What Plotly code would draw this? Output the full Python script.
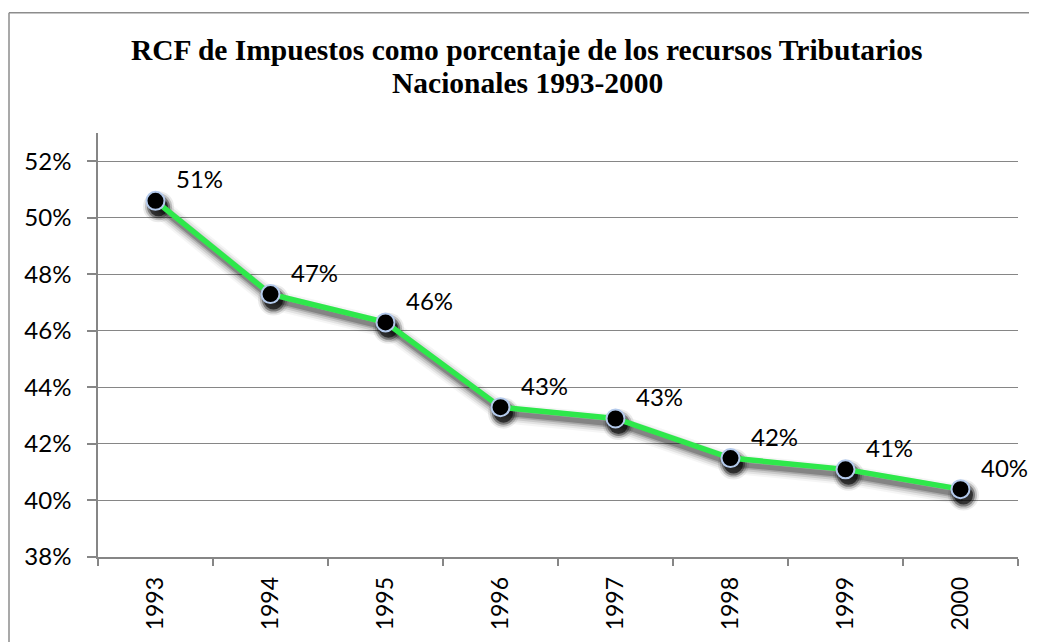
import plotly.graph_objects as go

years = ["1993", "1994", "1995", "1996", "1997", "1998", "1999", "2000"]
values = [50.6, 47.3, 46.3, 43.3, 42.9, 41.5, 41.1, 40.4]
labels = [f"{round(v)}%" for v in values]
title_lines = ["RCF de Impuestos como porcentaje de los recursos Tributarios",
               "Nacionales 1993-2000"]

# page has an 8px body margin; size figure to fill the rest of the window
W, H = 1029, 634
ml, mr, mt, mb = 90, 19, 125, 82
pw, ph = W - ml - mr, H - mt - mb
y_range = [38, 53]
x_range = [-0.5, 7.5]
px_x = pw / (x_range[1] - x_range[0])
px_y = ph / (y_range[1] - y_range[0])

# shadow offset (pixels)
sdx, sdy = 3, 6
x2_range = [x_range[0] - sdx / px_x, x_range[1] - sdx / px_x]
y2_range = [y_range[0] + sdy / px_y, y_range[1] + sdy / px_y]

fig = go.Figure()

fig.add_trace(go.Scatter(x=years, y=values, mode="lines", line=dict(color="rgba(0,0,0,0)"),
                         hoverinfo="skip", showlegend=False, xaxis="x", yaxis="y"))

for w, a in [(20, 0.04), (16, 0.07), (12, 0.11), (8, 0.16), (5, 0.22)]:
    fig.add_trace(go.Scatter(x=years, y=values, mode="lines",
                             line=dict(color=f"rgba(0,0,0,{a})", width=w),
                             hoverinfo="skip", showlegend=False, xaxis="x2", yaxis="y2"))
for s, a in [(31, 0.08), (27, 0.18), (23, 0.35), (19, 0.6)]:
    fig.add_trace(go.Scatter(x=years, y=values, mode="markers",
                             marker=dict(color=f"rgba(0,0,0,{a})", size=s, line=dict(width=0)),
                             hoverinfo="skip", showlegend=False, xaxis="x2", yaxis="y2"))

fig.add_trace(go.Scatter(x=years, y=values, mode="lines+markers",
                         line=dict(color="#2ee84b", width=5.5),
                         marker=dict(color="black", size=18, line=dict(color="#b4caec", width=2)),
                         showlegend=False, xaxis="x3", yaxis="y3"))

# data labels (category axis annotations use the category index)
for i, (v, t) in enumerate(zip(values, labels)):
    fig.add_annotation(x=i, y=v, xref="x", yref="y", text=t, showarrow=False,
                       xanchor="left", yanchor="middle", xshift=18, yshift=22,
                       font=dict(family="Lato", size=24, color="black"))

def py(fig_px):
    return (H - mb - fig_px) / ph

title_cx = (519 - ml) / pw
for line, cy in zip(title_lines, [41, 75]):
    fig.add_annotation(x=title_cx, y=py(cy), xref="paper", yref="paper", text=f"<b>{line}</b>",
                       showarrow=False, xanchor="center", yanchor="middle",
                       font=dict(family="Liberation Serif", size=29.5, color="black"))

grid_color = "#868686"
fig.update_layout(
    width=W, height=H,
    margin=dict(l=ml, r=mr, t=mt, b=mb),
    paper_bgcolor="white", plot_bgcolor="white",
    xaxis=dict(type="category", categoryorder="array", categoryarray=years, range=x_range,
               showgrid=False, showline=True, linecolor=grid_color, linewidth=1.5,
               ticks="outside", ticklen=7, tickcolor=grid_color, tickwidth=1.5,
               tickson="boundaries", tickangle=-90, ticklabelstandoff=9,
               tickfont=dict(family="Lato", size=23, color="black"), fixedrange=True),
    yaxis=dict(range=y_range, tick0=38, dtick=2, ticksuffix="%",
               showgrid=True, gridcolor=grid_color, gridwidth=1.3,
               showline=True, linecolor=grid_color, linewidth=1.5,
               ticks="outside", ticklen=9, tickcolor=grid_color, tickwidth=1.5,
               ticklabelstandoff=11, zeroline=False,
               tickfont=dict(family="Lato", size=24, color="black"), fixedrange=True),
    xaxis2=dict(type="category", categoryorder="array", categoryarray=years, range=x2_range,
                overlaying="x", visible=False, fixedrange=True),
    yaxis2=dict(range=y2_range, overlaying="y", visible=False, fixedrange=True),
    xaxis3=dict(type="category", categoryorder="array", categoryarray=years, range=x_range,
                overlaying="x", visible=False, fixedrange=True),
    yaxis3=dict(range=y_range, overlaying="y", visible=False, fixedrange=True),
)

# outer chart border (top and left visible in frame)
bx = (1 - ml) / pw
by = py(4)
fig.add_shape(type="line", xref="paper", yref="paper", x0=bx, x1=1.05, y0=by, y1=by,
              line=dict(color="#8c8c8c", width=1.5))
fig.add_shape(type="line", xref="paper", yref="paper", x0=bx, x1=bx, y0=by, y1=-0.3,
              line=dict(color="#8c8c8c", width=1.5))

fig.write_html("out.html")
